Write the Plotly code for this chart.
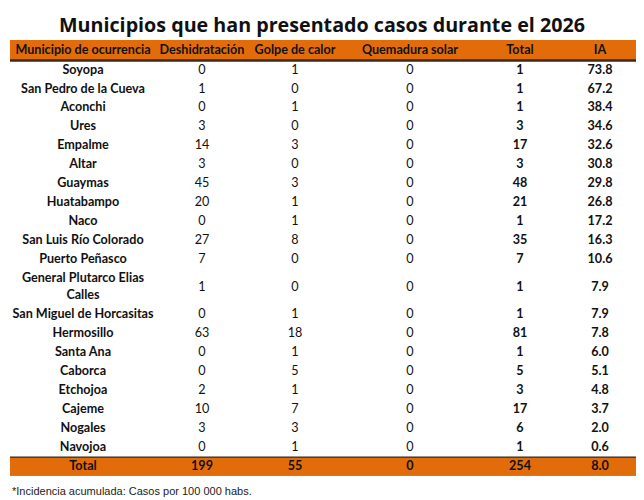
import numpy as np
import plotly.graph_objects as go

columns = ["Municipio de ocurrencia", "Deshidratación", "Golpe de calor",
           "Quemadura solar", "Total", "IA"]

municipios = ["Soyopa", "San Pedro de la Cueva", "Aconchi", "Ures", "Empalme", "Altar",
              "Guaymas", "Huatabampo", "Naco", "San Luis Río Colorado", "Puerto Peñasco",
              "General Plutarco Elias<br>Calles", "San Miguel de Horcasitas", "Hermosillo",
              "Santa Ana", "Caborca", "Etchojoa", "Cajeme", "Nogales", "Navojoa"]
deshidratacion = [0, 1, 0, 3, 14, 3, 45, 20, 0, 27, 7, 1, 0, 63, 0, 0, 2, 10, 3, 0]
golpe_calor = [1, 0, 1, 0, 3, 0, 3, 1, 1, 8, 0, 0, 1, 18, 1, 5, 1, 7, 3, 1]
quemadura = [0] * 20
total = [1, 1, 1, 3, 17, 3, 48, 21, 1, 35, 7, 1, 1, 81, 1, 5, 3, 17, 6, 1]
ia = [73.8, 67.2, 38.4, 34.6, 32.6, 30.8, 29.8, 26.8, 17.2, 16.3, 10.6,
      7.9, 7.9, 7.8, 6.0, 5.1, 4.8, 3.7, 2.0, 0.6]
totales = ["Total", 199, 55, 0, 254, 8.0]

ORANGE = "#E36C0A"
TXT = "#111111"
FONT = dict(family="Lato", size=12.6, color=TXT)

# layout of the grid (pixels)
col_w = np.array([146, 92, 94, 136, 84, 76])
col_edges = np.concatenate([[0], np.cumsum(col_w)])
col_x = (col_edges[:-1] + col_edges[1:]) / 2
header_h = 20
row_h = np.array([36 if "<br>" in m else 19 for m in municipios] + [19])
row_edges = header_h + 1 + np.concatenate([[0], np.cumsum(row_h)])
row_y = (row_edges[:-1] + row_edges[1:]) / 2
bottom = row_edges[-1]

col_texts = [
    ["<b>%s</b>" % m for m in municipios] + ["<b>%s</b>" % totales[0]],
    [str(v) for v in deshidratacion] + ["<b>%d</b>" % totales[1]],
    [str(v) for v in golpe_calor] + ["<b>%d</b>" % totales[2]],
    [str(v) for v in quemadura] + ["<b>%d</b>" % totales[3]],
    ["<b>%d</b>" % v for v in total] + ["<b>%d</b>" % totales[4]],
    ["<b>%.1f</b>" % v for v in ia] + ["<b>%.1f</b>" % totales[5]],
]

fig = go.Figure()

# header text
fig.add_trace(go.Scatter(
    x=col_x, y=[header_h / 2 + 0.5] * len(columns), mode="text",
    text=["<b>%s</b>" % c for c in columns], textposition="middle center",
    textfont=FONT, hoverinfo="skip", showlegend=False, cliponaxis=False,
))

for i, texts in enumerate(col_texts):
    fig.add_trace(go.Scatter(
        x=[col_x[i]] * len(texts), y=row_y, mode="text", text=texts,
        textposition="middle center", textfont=FONT,
        hoverinfo="skip", showlegend=False, cliponaxis=False,
    ))

shapes = [
    # header band and its dark rule
    dict(type="rect", xref="x", yref="y", x0=0, x1=col_edges[-1], y0=0, y1=header_h,
         fillcolor=ORANGE, line_width=0, layer="below"),
    dict(type="line", xref="x", yref="y", x0=0, x1=col_edges[-1], y0=header_h + 0.5,
         y1=header_h + 0.5, line=dict(color="#3b2a1c", width=2.5), layer="above"),
    # total band
    dict(type="rect", xref="x", yref="y", x0=0, x1=col_edges[-1], y0=row_edges[-2],
         y1=bottom, fillcolor=ORANGE, line_width=0, layer="below"),
    dict(type="line", xref="x", yref="y", x0=0, x1=col_edges[-1], y0=row_edges[-2],
         y1=row_edges[-2], line=dict(color="#2b2b2b", width=1.2), layer="above"),
    dict(type="line", xref="x", yref="y", x0=0, x1=col_edges[-1], y0=bottom + 0.5,
         y1=bottom + 0.5, line=dict(color="#9a9a9a", width=1.5), layer="above"),
]

fig.update_layout(
    width=644, height=500,
    margin=dict(l=2, r=14, t=32, b=32),
    paper_bgcolor="white", plot_bgcolor="white",
    xaxis=dict(range=[0, col_edges[-1]], visible=False, fixedrange=True),
    yaxis=dict(range=[bottom, 0], visible=False, fixedrange=True),
    shapes=shapes,
    title=dict(text="<b>Municipios que han presentado casos durante el 2026</b>",
               x=(322 - 8) / 644, xanchor="center", y=0.966, yanchor="middle",
               font=dict(family="Open Sans", size=19.7, color=TXT)),
    annotations=[dict(text="*Incidencia acumulada: Casos por 100 000 habs.",
                      x=0, xref="paper", y=-0.034, yref="paper", xanchor="left",
                      yanchor="middle", showarrow=False,
                      font=dict(family="Liberation Sans", size=11, color="#222222"))],
)

fig.write_html("out.html")
